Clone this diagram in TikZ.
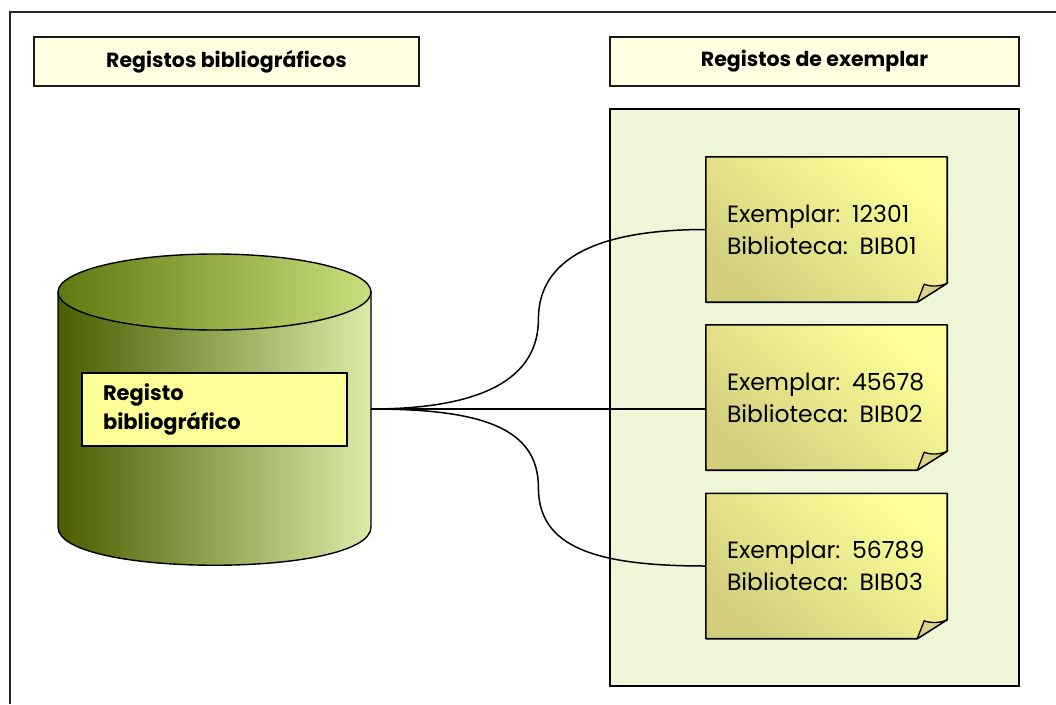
\documentclass[tikz,border=0pt]{standalone}
\usepackage{fontspec}
\setmainfont{Poppins}
\usetikzlibrary{calc,positioning}
\definecolor{titleFill}{HTML}{FFFFE1}
\definecolor{panelFill}{HTML}{EFF5D7}
\definecolor{noteLight}{HTML}{FFFF99}
\definecolor{noteDark}{HTML}{D2CE7E}
\definecolor{foldFill}{HTML}{D8D48C}
\definecolor{labelFill}{HTML}{FFFF99}
\definecolor{cylDark}{HTML}{4A5D00}
\definecolor{cylMid}{HTML}{9DB45C}
\definecolor{cylLight}{HTML}{DCEBA8}
\definecolor{topDark}{HTML}{5E7A10}
\definecolor{topLight}{HTML}{C8E07C}

\begin{document}
\begin{tikzpicture}[x=1pt,y=-1pt,
  titlebox/.style={draw=black!90,line width=1.8pt,fill=titleFill,minimum height=49pt,
    font=\bfseries\fontsize{20.5}{24}\selectfont},
  note/.style={top color=noteLight,bottom color=noteDark,shading angle=-40,
    minimum height=145pt,text width=199pt,inner xsep=21pt,align=left,
    font=\fontsize{23.5}{32}\selectfont},
  link/.style={line width=1.5pt}]
  \useasboundingbox (0,0) rectangle (1056,704);
  \draw[line width=1.4pt,black!85] (10,704) -- (10,12) -- (1056,12);

  % titulos
  \node[titlebox,minimum width=385pt] (bibtitle) at (226.5,61.5) {Registos bibliográficos};
  \node[titlebox,minimum width=409pt] (extitle) at (814.5,61.5) {Registos de exemplar};

  % painel dos exemplares
  \node[draw,line width=1.8pt,fill=panelFill,minimum width=409pt,minimum height=577pt] (expanel) at (814.5,397.5) {};

  % cilindro
  \draw[line width=1.4pt,left color=cylDark,middle color=cylMid,right color=cylLight]
    (58,292) -- (58,527) .. controls (58,578) and (371,578) .. (371,527) -- (371,292) -- cycle;
  \draw[line width=1.4pt,left color=topDark,right color=topLight]
    (214.5,292) ellipse [x radius=156.5, y radius=38];
  \node[draw,line width=1.4pt,fill=labelFill,minimum height=73pt,text width=223pt,inner xsep=21pt,
    align=left,font=\bfseries\fontsize{21}{29}\selectfont] (regbox) at (214.5,409.5)
    {Registo\\ bibliográfico};
  \coordinate (cylR) at (371,409);

  % exemplares
  \node[note] (ex1) at (826.5,229.5) {Exemplar: 12301\\ Biblioteca: BIB01};
  \node[note] (ex2) at (826.5,397.5) {Exemplar: 45678\\ Biblioteca: BIB02};
  \node[note] (ex3) at (826.5,566) {Exemplar: 56789\\ Biblioteca: BIB03};
  \foreach \n in {ex1,ex2,ex3} {
    \fill[panelFill] ($(\n.south east)+(-30,0.8)$) -- ($(\n.south east)+(0.8,0.8)$) -- ($(\n.south east)+(0.8,-19)$) -- cycle;
    \draw[line width=1.6pt,line join=round] (\n.north west) -- (\n.north east) -- ($(\n.south east)+(0,-19)$)
      -- ($(\n.south east)+(-30,0)$) -- (\n.south west) -- cycle;
    \draw[line width=1.3pt,fill=foldFill,line join=round] ($(\n.south east)+(-30,0)$) -- ($(\n.south east)+(-23,-18)$)
      .. controls ($(\n.south east)+(-16,-15)$) and ($(\n.south east)+(-6,-16)$) .. ($(\n.south east)+(0,-19)$) -- cycle;
  }

  % ligacoes
  \coordinate (m1) at ($(cylR)!0.5!(ex1.west)$);
  \coordinate (m3) at ($(cylR)!0.5!(ex3.west)$);
  \draw[link] (cylR) .. controls +(110,0) and +(0,60) .. (m1) .. controls +(0,-60) and +(-110,0) .. (ex1.west);
  \draw[link] (cylR) -- (ex2.west |- cylR);
  \draw[link] (cylR) .. controls +(110,0) and +(0,-60) .. (m3) .. controls +(0,60) and +(-110,0) .. (ex3.west);
\end{tikzpicture}
\end{document}
